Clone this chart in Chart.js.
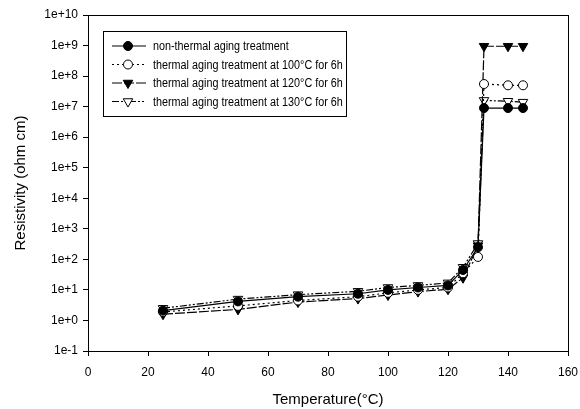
<!DOCTYPE html>
<html>
<head>
<meta charset="utf-8">
<script src="https://cdn.jsdelivr.net/npm/chart.js@4/dist/chart.umd.min.js"></script>
<style>
  html, body { margin: 0; padding: 0; background: #fff; }
  #wrap { width: 580px; height: 409px; }
</style>
</head>
<body>
<div id="wrap"><canvas id="grafico" width="580" height="409"></canvas></div>
<script>
// temperatura (°C)
const temperaturas = [25, 50, 70, 90, 100, 110, 120, 125, 130, 132, 140, 145];

// resistividade (ohm cm) de cada serie
const semTratamento = [2.1, 4.2, 6.0, 7.5, 10, 12, 14, 45, 250, 9e6, 9e6, 9e6];
const trat100 = [1.9, 3.0, 4.5, 6.0, 8, 10, 12, 35, 120, 5.5e7, 5e7, 5e7];
const trat120 = [1.6, 2.3, 4.0, 5.2, 6.8, 8.8, 10.5, 25, 280, 9.5e8, 9.5e8, 9.5e8];
const trat130 = [2.5, 5.0, 7.0, 9.0, 12, 14, 17, 55, 330, 1.6e7, 1.5e7, 1.4e7];

const nomesSeries = [
    'non-thermal aging treatment',
    'thermal aging treatment at 100°C for 6h',
    'thermal aging treatment at 120°C for 6h',
    'thermal aging treatment at 130°C for 6h'
];

const ticksY = [0.1, 1, 10, 1e2, 1e3, 1e4, 1e5, 1e6, 1e7, 1e8, 1e9, 1e10];

function pontos(valores) {
    return temperaturas.map((t, i) => ({ x: t, y: valores[i] }));
}

const estilos = [
    { dash: [], marker: 'circle', rot: 0, fill: '#000' },
    { dash: [2, 3], marker: 'circle', rot: 0, fill: '#fff' },
    { dash: [10, 2], marker: 'triangle', rot: 180, fill: '#000' },
    { dash: [7, 2, 2, 2, 2, 2], marker: 'triangle', rot: 180, fill: '#fff' }
];

const valores = [semTratamento, trat100, trat120, trat130];

const datasets = valores.map((v, i) => ({
    label: nomesSeries[i],
    data: pontos(v),
    borderColor: '#000',
    borderWidth: 1.2,
    borderDash: estilos[i].dash,
    pointStyle: estilos[i].marker,
    rotation: estilos[i].rot,
    pointRadius: estilos[i].marker === 'circle' ? 4.5 : 5.5,
    pointBackgroundColor: estilos[i].fill,
    pointBorderColor: '#000',
    pointBorderWidth: 1,
    tension: 0
}));

// moldura + legenda desenhadas no canvas
const moldura = {
    id: 'moldura',
    afterDraw(chart) {
        const ctx = chart.ctx;
        const a = chart.chartArea;
        ctx.save();
        ctx.strokeStyle = '#000';
        ctx.lineWidth = 1;
        ctx.setLineDash([]);
        ctx.strokeRect(a.left + 0.5, a.top + 0.5, a.right - a.left, a.bottom - a.top);

        // legenda
        const bx = 103, by = 31, bw = 243, bh = 85;
        ctx.fillStyle = '#fff';
        ctx.fillRect(bx, by, bw, bh);
        ctx.strokeRect(bx + 0.5, by + 0.5, bw, bh);
        ctx.font = '12px "Liberation Sans", Arial, sans-serif';
        ctx.textBaseline = 'middle';
        for (let i = 0; i < 4; i++) {
            const y = by + 15 + i * 18.5;
            const ds = datasets[i];
            ctx.setLineDash(ds.borderDash);
            ctx.lineWidth = 1.2;
            ctx.beginPath();
            ctx.moveTo(bx + 9, y);
            ctx.lineTo(bx + 43, y);
            ctx.stroke();
            ctx.setLineDash([]);
            ctx.lineWidth = 1;
            ctx.fillStyle = ds.pointBackgroundColor;
            Chart.helpers.drawPoint(ctx, {
                pointStyle: ds.pointStyle,
                rotation: ds.rotation,
                radius: ds.pointRadius,
                borderWidth: 1
            }, bx + 25, y);
            ctx.fillStyle = '#000';
            const w = ctx.measureText(ds.label).width;
            ctx.fillText(ds.label, bx + 50, y + 1, w * 0.9);
        }
        ctx.restore();
    }
};

Chart.defaults.font.family = '"Liberation Sans", Arial, sans-serif';
Chart.defaults.color = '#000';

const grafico = new Chart(document.getElementById('grafico'), {
    type: 'line',
    data: { datasets: datasets },
    options: {
        responsive: false,
        animation: false,
        layout: { padding: { top: 15, right: 12, left: 0, bottom: 0 } },
        plugins: {
            legend: { display: false },
            tooltip: { enabled: false }
        },
        scales: {
            x: {
                type: 'linear',
                min: 0,
                max: 160,
                ticks: { stepSize: 20, font: { size: 12 }, padding: 9 },
                grid: { drawOnChartArea: false, tickLength: 5, color: '#000' },
                border: { color: '#000' },
                title: { display: true, text: 'Temperature(°C)', font: { size: 15 }, padding: { top: 10, bottom: 0 } },
                afterFit(s) {
                    s.height = 58;
                    s.paddingLeft = 0;
                    s.paddingRight = 0;
                }
            },
            y: {
                type: 'logarithmic',
                min: 0.1,
                max: 1e10,
                afterBuildTicks(s) { s.ticks = ticksY.map(v => ({ value: v })); },
                ticks: {
                    font: { size: 12 },
                    padding: 5,
                    callback(v) {
                        const e = Math.round(Math.log10(v));
                        return '1e' + (e >= 0 ? '+' : '') + e;
                    }
                },
                grid: { drawOnChartArea: false, tickLength: 5, color: '#000' },
                border: { color: '#000' },
                title: { display: true, text: 'Resistivity (ohm cm)', font: { size: 15 }, padding: { top: 12, bottom: 6 } },
                afterFit(s) {
                    s.width = 88;
                    s.paddingTop = 0;
                    s.paddingBottom = 0;
                }
            }
        }
    },
    plugins: [moldura]
});
</script>
</body>
</html>
